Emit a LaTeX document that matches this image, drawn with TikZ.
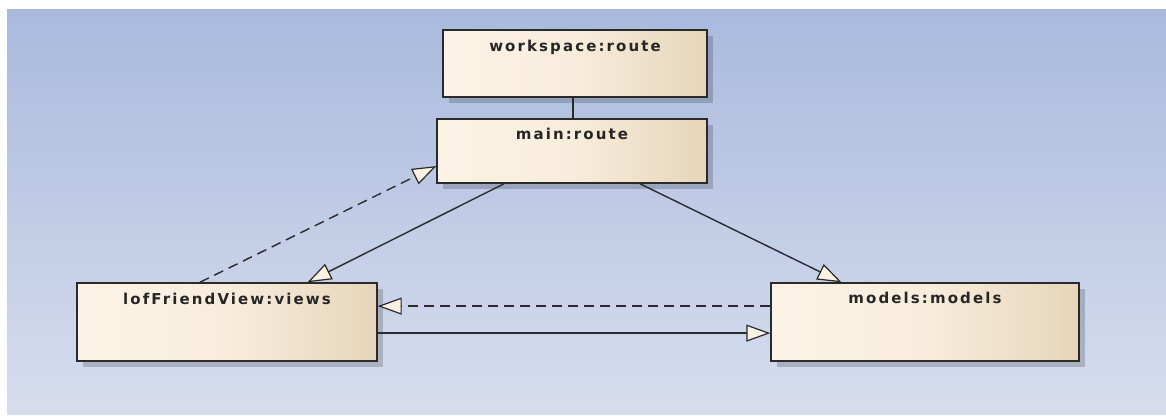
\documentclass[tikz,border=0pt]{standalone}
\usepackage{fontspec}
\newfontfamily\lblfont[LetterSpace=14]{DejaVu Sans Bold}
\usetikzlibrary{arrows.meta,shadows,calc}
\definecolor{bgtop}{HTML}{A9BADD}
\definecolor{bgbot}{HTML}{D7DDEE}
\definecolor{boxl}{HTML}{FCF3E6}
\definecolor{boxm}{HTML}{F8EDDC}
\definecolor{boxr}{HTML}{E6D5BA}
\definecolor{ink}{HTML}{2A2A2A}
\definecolor{tipfill}{HTML}{FBF1E2}
\tikzset{
  umlbox/.style={draw=ink, line width=1.4pt, rectangle, inner sep=0pt,
    left color=boxl, right color=boxr, middle color=boxm,
    drop shadow={shadow xshift=6pt, shadow yshift=-6pt, fill=black, opacity=0.18}},
  boxlabel/.style={anchor=base, inner sep=0pt, font=\lblfont\fontsize{15}{17}\selectfont, text=black!85},
  link/.style={draw=ink, line width=1.4pt,
    -{Triangle[length=24pt,width=17pt,fill=tipfill,line width=1.2pt]}},
  dep/.style={link, dash pattern=on 10pt off 6pt}
}
\begin{document}
\begin{tikzpicture}[x=1pt,y=-1pt]
  \useasboundingbox (0,0) rectangle (1166,415);
  % backdrop
  \shade[top color=bgtop, bottom color=bgbot] (7,9) rectangle (1166,414);

  % classes
  \node[umlbox, minimum width=264pt, minimum height=67pt] (ws) at (575,63.5) {};
  \node[umlbox, minimum width=270pt, minimum height=64pt] (main) at (572,151) {};
  \node[umlbox, minimum width=300pt, minimum height=78pt] (lof) at (227,322) {};
  \node[umlbox, minimum width=308pt, minimum height=78pt] (models) at (925,322) {};

  \node[boxlabel] (wsT) at (575,51.5) {workspace:route};
  \node[boxlabel] (mainT) at (572,139) {main:route};
  \node[boxlabel] (lofT) at (227,304) {lofFriendView:views};
  \node[boxlabel] (modelsT) at (925,303.5) {models:models};

  % connectors
  \coordinate (wsfoot) at ($(ws.south)+(-2,0)$);
  \draw[draw=ink, line width=1.5pt] (wsfoot) -- (wsfoot |- main.north);

  \draw[dep] ($(lof.north west)!0.41!(lof.north east)$)
    -- ($(main.north west)!0.73!(main.south west)$);
  \draw[link] ($(main.south west)!0.25!(main.south east)$)
    -- ($(lof.north west)!0.767!(lof.north east)$);
  \draw[link] ($(main.south west)!0.75!(main.south east)$)
    -- ($(models.north west)!0.23!(models.north east)$);
  \draw[dep] ($(models.north west)!0.3!(models.south west)$)
    -- ($(lof.north east)!0.3!(lof.south east)$);
  \draw[link] ($(lof.north east)!0.64!(lof.south east)$)
    -- ($(models.north west)!0.64!(models.south west)$);
\end{tikzpicture}
\end{document}
